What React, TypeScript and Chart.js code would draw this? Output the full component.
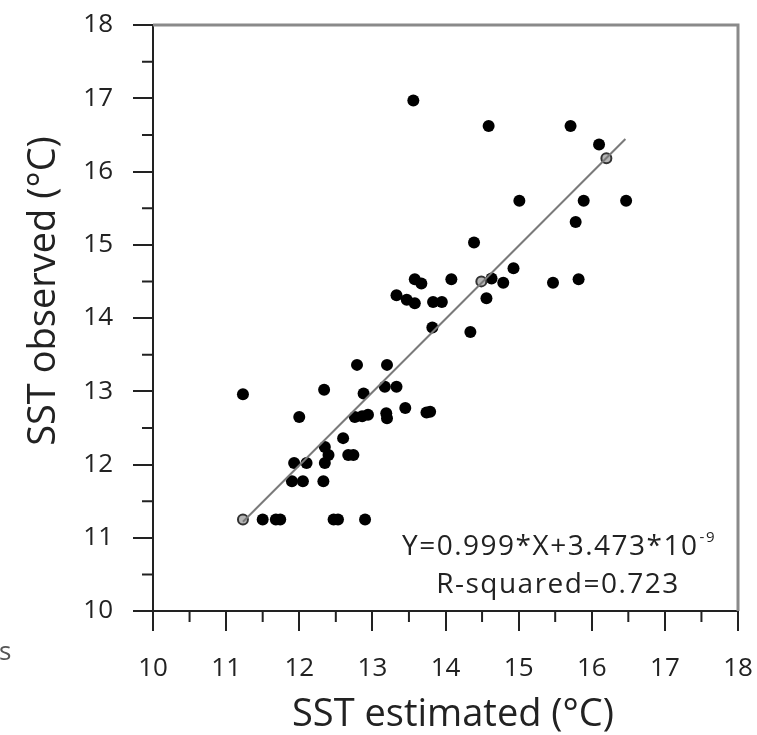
import React, { useEffect, useRef } from "react";
import { Chart, registerables } from "chart.js";

Chart.register(...registerables);

// SST estimated (x) and SST observed (y) for each station
const estimated = [
  13.56, 14.59, 15.71, 16.10, 15.01, 15.89, 16.47, 15.78, 14.39, 14.93,
  14.08, 14.63, 14.79, 15.47, 15.82, 14.56, 14.34, 13.58, 13.67, 13.33,
  13.47, 13.58, 13.83, 13.95, 13.82, 12.79, 13.20, 11.23, 12.34, 12.88,
  13.17, 13.33, 13.45, 13.74, 13.79, 12.00, 12.76, 12.86, 12.94, 13.19,
  13.20, 12.60, 12.35, 12.40, 12.35, 12.67, 12.74, 11.93, 12.10, 11.90,
  12.05, 12.33, 11.50, 11.68, 11.74, 12.47, 12.53, 12.90,
];
const observed = [
  16.97, 16.62, 16.62, 16.37, 15.60, 15.60, 15.60, 15.31, 15.03, 14.68,
  14.53, 14.54, 14.48, 14.48, 14.53, 14.27, 13.81, 14.53, 14.47, 14.31,
  14.25, 14.20, 14.22, 14.22, 13.87, 13.36, 13.36, 12.96, 13.02, 12.97,
  13.06, 13.06, 12.77, 12.71, 12.72, 12.65, 12.65, 12.66, 12.68, 12.70,
  12.63, 12.36, 12.24, 12.13, 12.02, 12.13, 12.13, 12.02, 12.02, 11.77,
  11.77, 11.77, 11.25, 11.25, 11.25, 11.25, 11.25, 11.25,
];
// points lying under the regression line
const onLineEstimated = [11.23, 14.49, 16.20];
const onLineObserved = [11.25, 14.50, 16.18];

// regression
const slope = 0.999;
const intercept = 3.473e-9;
const fitRange = [11.23, 16.46];

const axisMin = 10;
const axisMax = 18;
const tickStep = 1;

const xTitle = "SST estimated (°C)";
const yTitle = "SST observed (°C)";
const eqMain = "Y=0.999*X+3.473*10";
const eqExp = "-9";
const r2Text = "R-squared=0.723";
const strayText = "s";

const FONT = "'Open Sans', 'DejaVu Sans', sans-serif";
const TEXT = "#222";

const decorPlugin = {
  id: "decor",
  afterDraw(chart: any) {
    const ctx = chart.ctx;
    const xs = chart.scales.x;
    const ys = chart.scales.y;
    const { left, right, top, bottom } = chart.chartArea;
    ctx.save();
    // grey frame top & right
    ctx.strokeStyle = "#8a8a8a";
    ctx.lineWidth = 3;
    ctx.beginPath();
    ctx.moveTo(left, top);
    ctx.lineTo(right, top);
    ctx.lineTo(right, bottom);
    ctx.stroke();
    // minor ticks
    ctx.strokeStyle = "#222";
    ctx.lineWidth = 2;
    ctx.beginPath();
    for (let v = axisMin + tickStep / 2; v < axisMax; v += tickStep) {
      const px = xs.getPixelForValue(v);
      ctx.moveTo(px, bottom);
      ctx.lineTo(px, bottom + 11);
      const py = ys.getPixelForValue(v);
      ctx.moveTo(left, py);
      ctx.lineTo(left - 11, py);
    }
    ctx.stroke();
    // titles
    ctx.fillStyle = TEXT;
    ctx.font = `38px ${FONT}`;
    ctx.textAlign = "center";
    ctx.textBaseline = "alphabetic";
    ctx.fillText(xTitle, 453, 726);
    ctx.save();
    ctx.translate(55, 291);
    ctx.rotate(-Math.PI / 2);
    ctx.fillText(yTitle, 0, 0);
    ctx.restore();
    // equation
    const big = `28px ${FONT}`;
    const small = `15px ${FONT}`;
    (ctx as any).letterSpacing = "1.5px";
    ctx.font = big;
    const w1 = ctx.measureText(eqMain).width;
    ctx.font = small;
    const w2 = ctx.measureText(eqExp).width;
    const total = w1 + w2 + 1;
    const cx = 559;
    const startX = cx - total / 2;
    ctx.textAlign = "left";
    ctx.font = big;
    ctx.fillText(eqMain, startX, 555);
    ctx.font = small;
    ctx.fillText(eqExp, startX + w1 + 1, 542);
    ctx.font = big;
    ctx.textAlign = "center";
    ctx.fillText(r2Text, 558, 593);
    (ctx as any).letterSpacing = "0px";
    // stray text at the left border
    ctx.fillStyle = "#555";
    ctx.font = `26px ${FONT}`;
    ctx.textAlign = "left";
    ctx.fillText(strayText, -1, 660);
    ctx.restore();
  },
};

export default function App() {
  const ref = useRef<HTMLCanvasElement>(null);
  useEffect(() => {
    if (!ref.current) return;
    const scatterData = estimated.map((x, i) => ({ x, y: observed[i] }));
    const onLineData = onLineEstimated.map((x, i) => ({ x, y: onLineObserved[i] }));
    const fitData = fitRange.map((x) => ({ x, y: slope * x + intercept }));
    const chart = new Chart(ref.current, {
      type: "scatter",
      data: {
        datasets: [
          {
            type: "line",
            label: "fit",
            data: fitData,
            borderColor: "#7a7a7a",
            borderWidth: 2,
            pointRadius: 0,
            showLine: true,
            fill: false,
            order: 0,
          } as any,
          {
            label: "on line",
            data: onLineData,
            backgroundColor: "#b5b5b5",
            borderColor: "#333",
            borderWidth: 2,
            pointRadius: 5,
            order: 1,
          },
          {
            label: "SST",
            data: scatterData,
            backgroundColor: "#000",
            borderColor: "#000",
            borderWidth: 0,
            pointRadius: 6,
            order: 2,
          },
        ],
      },
      options: {
        animation: false,
        responsive: false,
        layout: { padding: { left: 0, top: 25, right: 19, bottom: 0 } },
        plugins: { legend: { display: false }, tooltip: { enabled: false } },
        scales: {
          x: {
            type: "linear",
            min: axisMin,
            max: axisMax,
            ticks: {
              stepSize: tickStep,
              color: TEXT,
              font: { family: FONT, size: 26 },
              padding: 22,
              maxRotation: 0,
            },
            grid: {
              drawOnChartArea: false,
              drawTicks: true,
              tickLength: 20,
              color: "#222",
              lineWidth: 2,
            },
            border: { display: true, color: "#222", width: 2 },
            afterFit: (s: any) => {
              s.height = 124;
              s.paddingLeft = 0;
              s.paddingRight = 0;
            },
          },
          y: {
            type: "linear",
            min: axisMin,
            max: axisMax,
            ticks: {
              stepSize: tickStep,
              color: TEXT,
              font: { family: FONT, size: 26 },
              padding: 20,
            },
            grid: {
              drawOnChartArea: false,
              drawTicks: true,
              tickLength: 20,
              color: "#222",
              lineWidth: 2,
            },
            border: { display: true, color: "#222", width: 2 },
            afterFit: (s: any) => {
              s.width = 153;
              s.paddingTop = 0;
              s.paddingBottom = 0;
            },
          },
        },
      },
      plugins: [decorPlugin],
    });
    return () => chart.destroy();
  }, []);
  return (
    <div style={{ position: "fixed", left: 0, top: 0, width: 757, height: 735, background: "#fff" }}>
      <canvas ref={ref} width={757} height={735} style={{ display: "block" }} />
    </div>
  );
}
